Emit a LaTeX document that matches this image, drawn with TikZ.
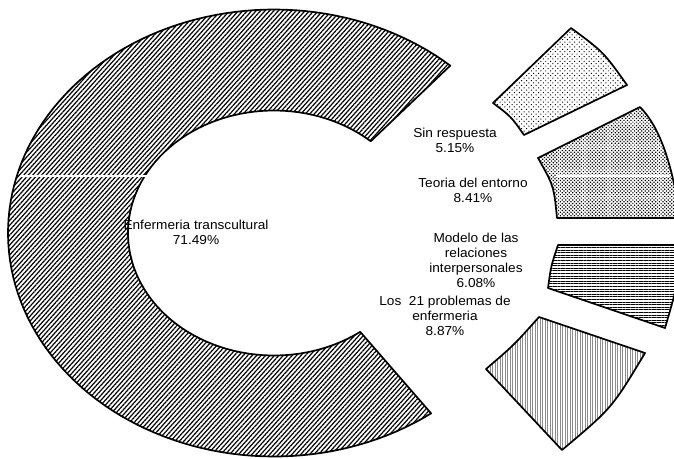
\documentclass[tikz,border=0pt]{standalone}
\usepackage{fontspec}
\setmainfont{Liberation Sans}[FakeStretch=1.05]
\usetikzlibrary{patterns.meta}
\begin{document}
\begin{tikzpicture}[x=1pt,y=-1pt,
  slice/.style={draw=black, line width=1.7pt, line join=round},
  cpat/.style={slice, pattern={Lines[angle=48,distance=3.3pt,line width=1.2pt]}},
  sinpat/.style={slice, pattern={Dots[angle=45,distance=3.4pt,radius=0.7pt]}},
  teopat/.style={slice, pattern={Dots[angle=45,distance=2.5pt,radius=0.85pt]}},
  modpat/.style={slice, pattern={Lines[angle=0,distance=2.6pt,line width=0.75pt]}},
  lospat/.style={slice, pattern={Lines[angle=90,distance=2.5pt,line width=0.6pt]}, pattern color=black!45},
  lbl/.style={align=center, inner sep=0pt, font=\fontsize{13}{14.8}\selectfont},
  scanline/.style={white, line width=1.6pt}
]
\useasboundingbox (0,0) rectangle (674,458);
\clip (0,0) rectangle (674,458);

% main ring sector: Enfermeria transcultural (71.49%)
\path[cpat]
  plot[domain=48.5:306.2, samples=120] ({274+266*cos(\x)},{233-223.5*sin(\x)})
  -- plot[domain=306.2:48.5, samples=90] ({274+146*cos(\x)},{233-122.5*sin(\x)})
  -- cycle;

% exploded slices
\coordinate (s1) at (493,103); \coordinate (s2) at (571,28);
\coordinate (s3) at (627,85);  \coordinate (s4) at (524,135);
\path[sinpat] (s1) -- (s2) .. controls (603.5,52) .. (s3) -- (s4)
  .. controls (511,116.5) .. cycle;

\coordinate (t1) at (538,158); \coordinate (t2) at (640,107);
\coordinate (t3) at (680,218); \coordinate (t4) at (557,218);
\path[teopat] (t1) -- (t2) .. controls (658,125) and (672,160) .. (t3)
  -- (t4) .. controls (553.8,186) .. cycle;

\coordinate (m1) at (558,245); \coordinate (m2) at (682,245);
\coordinate (m3) at (665,328); \coordinate (m4) at (548,288);
\path[modpat] (m1) -- (m2) .. controls (677,287) .. (m3) -- (m4)
  .. controls (551,266) .. cycle;

\coordinate (l1) at (486,369); \coordinate (l2) at (539,317);
\coordinate (l3) at (645,353); \coordinate (l4) at (562,450);
\path[lospat] (l1) .. controls (514,345) .. (l2) -- (l3)
  .. controls (612,408) .. (l4) -- cycle;

% horizontal scan streak
\draw[scanline] (20,176) -- (147,176);
\draw[scanline] (556,176) -- (670,176);

% labels
\node[lbl] (enf) at (196,232) {Enfermeria transcultural\\71.49\%};
\node[lbl] (sin) at (455,140.5) {Sin respuesta\\5.15\%};
\node[lbl] (teo) at (473,190.5) {Teoria del entorno\\8.41\%};
\node[lbl] (mod) at (476,260.5) {Modelo de las\\relaciones\\interpersonales\\6.08\%};
\node[lbl] (los) at (445,316) {Los~ 21 problemas de\\enfermeria\\8.87\%};
\end{tikzpicture}
\end{document}
